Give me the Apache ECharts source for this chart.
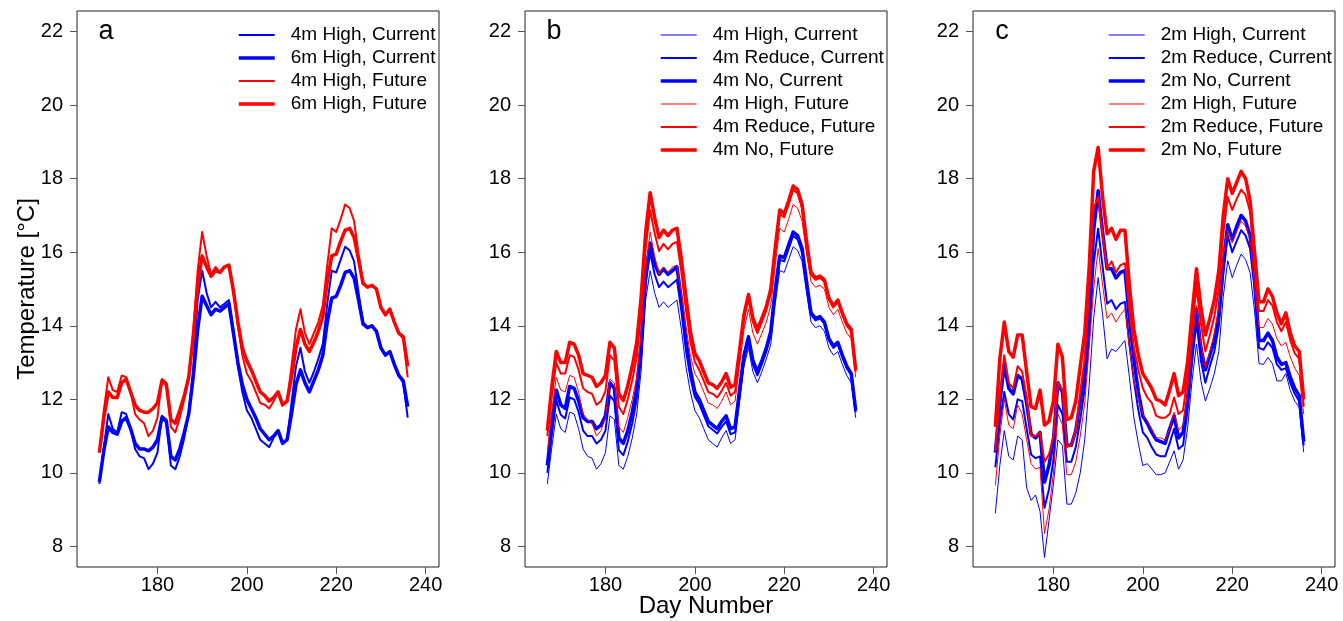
<!DOCTYPE html>
<html><head><meta charset="utf-8">
<script src="https://cdn.jsdelivr.net/npm/echarts@6.0.0/dist/echarts.min.js"></script>
<style>html,body{margin:0;padding:0;background:#fff}#c{width:1343px;height:621px}</style>
</head><body><div id="c"></div>
<script>
// ---------------- data ----------------
const DAYS = [167,168,169,170,171,172,173,174,175,176,177,178,179,180,181,182,183,184,185,186,
187,188,189,190,191,192,193,194,195,196,197,198,199,200,201,202,203,204,205,206,
207,208,209,210,211,212,213,214,215,216,217,218,219,220,221,222,223,224,225,226,
227,228,229,230,231,232,233,234,235,236];
const X_TICKS = [180,200,220,240];
const Y_TICKS = [8,10,12,14,16,18,20,22];

// panel a / b (4 m and 6 m depth)
const HIGH_4M_CURRENT = [9.7,10.7,11.6,11.2,11.1,11.65,11.6,11.2,10.65,10.45,
10.4,10.1,10.25,10.55,11.55,11.45,10.2,10.1,10.45,10.95,
11.6,12.8,14.7,15.5,14.9,14.5,14.65,14.5,14.6,14.7,
13.9,12.9,12.2,11.7,11.5,11.2,10.9,10.8,10.7,10.95,
11.15,10.8,10.9,11.9,12.9,13.4,12.75,12.45,12.75,13.1,
13.5,14.6,15.5,15.45,15.8,16.15,16.05,15.75,14.9,14.1,
13.95,14.0,13.85,13.4,13.2,13.3,12.95,12.65,12.45,11.5];
const HIGH_6M_CURRENT = [9.75,10.6,11.25,11.1,11.05,11.4,11.5,11.2,10.8,10.65,
10.65,10.6,10.7,10.9,11.5,11.4,10.45,10.35,10.65,11.1,
11.6,12.6,13.9,14.8,14.55,14.3,14.45,14.4,14.5,14.6,
13.8,13.0,12.4,12.0,11.75,11.5,11.2,11.05,10.9,11.0,
11.15,10.8,10.9,11.6,12.4,12.8,12.45,12.2,12.5,12.8,
13.2,14.1,14.75,14.8,15.1,15.45,15.5,15.3,14.7,14.05,
13.95,14.0,13.85,13.4,13.2,13.3,12.95,12.65,12.5,11.8];
const HIGH_4M_FUTURE = [10.55,11.7,12.6,12.25,12.2,12.65,12.6,12.2,11.6,11.45,
11.35,11.0,11.15,11.5,12.55,12.45,11.25,11.1,11.5,12.0,
12.6,13.8,15.5,16.55,15.9,15.4,15.6,15.45,15.6,15.65,
14.9,14.0,13.2,12.7,12.5,12.2,11.9,11.85,11.75,11.95,
12.2,11.85,11.95,12.9,13.9,14.45,13.8,13.5,13.8,14.1,
14.55,15.65,16.65,16.55,16.9,17.3,17.2,16.85,15.95,15.2,
15.05,15.1,15.0,14.5,14.3,14.45,14.1,13.8,13.65,12.6];
const HIGH_6M_FUTURE = [10.55,11.5,12.2,12.05,12.05,12.45,12.55,12.2,11.85,11.7,
11.65,11.65,11.75,11.9,12.5,12.4,11.45,11.35,11.7,12.1,
12.6,13.7,15.1,15.9,15.6,15.35,15.5,15.45,15.6,15.65,
14.95,14.1,13.4,13.05,12.8,12.5,12.2,12.1,11.95,12.05,
12.2,11.85,11.95,12.6,13.4,13.9,13.5,13.3,13.55,13.85,
14.25,15.2,15.9,15.95,16.3,16.6,16.65,16.4,15.8,15.15,
15.05,15.1,15.0,14.5,14.3,14.45,14.1,13.8,13.7,12.9];
const REDUCE_4M_CURRENT = [10.0,11.05,11.97,11.58,11.48,12.05,12.0,11.65,11.15,11.0,
11.0,10.8,10.9,11.15,12.1,11.95,10.62,10.48,10.85,11.35,
12.0,13.2,15.15,16.0,15.4,15.05,15.2,15.05,15.15,15.25,
14.4,13.35,12.6,12.07,11.87,11.57,11.27,11.17,11.07,11.25,
11.4,11.05,11.1,12.1,13.08,13.57,12.95,12.65,12.95,13.3,
13.75,14.9,15.8,15.75,16.1,16.45,16.35,16.0,15.12,14.3,
14.15,14.2,14.05,13.6,13.4,13.5,13.15,12.85,12.65,11.65];
const NO_4M_CURRENT = [10.2,11.3,12.25,11.85,11.75,12.35,12.3,11.95,11.5,11.4,
11.4,11.2,11.3,11.55,12.45,12.3,10.95,10.8,11.15,11.65,
12.3,13.5,15.4,16.25,15.7,15.4,15.55,15.4,15.5,15.6,
14.7,13.6,12.8,12.2,12.0,11.7,11.4,11.3,11.2,11.4,
11.55,11.2,11.25,12.25,13.2,13.7,13.05,12.75,13.05,13.4,
13.85,15.0,15.9,15.85,16.2,16.55,16.45,16.1,15.2,14.35,
14.2,14.25,14.1,13.65,13.45,13.55,13.2,12.9,12.7,11.7];
const REDUCE_4M_FUTURE = [11.0,12.12,13.0,12.7,12.7,13.2,13.15,12.8,12.3,12.2,
12.15,11.85,11.95,12.22,13.2,13.05,11.8,11.6,12.0,12.52,
13.15,14.38,16.1,17.15,16.52,16.03,16.23,16.08,16.23,16.28,
15.45,14.45,13.58,13.02,12.8,12.5,12.2,12.15,12.05,12.23,
12.45,12.1,12.2,13.18,14.2,14.75,14.1,13.8,14.1,14.42,
14.9,16.03,17.05,16.95,17.3,17.7,17.6,17.2,16.23,15.4,
15.25,15.3,15.2,14.7,14.5,14.65,14.3,14.0,13.85,12.75];
const NO_4M_FUTURE = [11.15,12.35,13.3,13.0,13.0,13.55,13.5,13.2,12.7,12.65,
12.6,12.35,12.45,12.65,13.55,13.4,12.15,11.97,12.37,12.9,
13.55,14.8,16.55,17.62,16.95,16.4,16.6,16.45,16.6,16.65,
15.8,14.8,13.85,13.25,13.05,12.75,12.45,12.4,12.3,12.47,
12.7,12.33,12.4,13.32,14.3,14.85,14.2,13.9,14.2,14.52,
15.0,16.13,17.15,17.05,17.4,17.8,17.7,17.3,16.3,15.45,
15.3,15.35,15.25,14.75,14.55,14.7,14.35,14.05,13.9,12.8];

// panel c (2 m depth)
const HIGH_2M_CURRENT = [8.9,10.2,11.15,10.45,10.35,11.0,10.9,9.6,9.25,9.4,
8.95,7.7,8.7,9.7,10.9,10.75,9.15,9.15,9.45,10.0,
10.9,12.4,14.2,15.31,14.3,13.1,13.37,13.3,13.45,13.6,
12.6,11.5,10.8,10.2,10.25,10.1,9.95,9.95,10.0,10.3,
10.6,10.1,10.35,11.2,12.5,13.5,12.5,11.95,12.3,12.7,
13.3,14.8,15.77,15.31,15.65,15.95,15.8,15.45,14.4,12.97,
12.95,13.14,12.97,12.5,12.5,12.7,12.24,11.95,11.78,10.56];
const REDUCE_2M_CURRENT = [10.15,11.35,12.2,11.6,11.45,12.0,11.95,11.2,10.5,10.4,
10.45,9.05,9.55,10.35,11.85,11.6,10.3,10.3,10.7,11.45,
12.3,13.7,15.7,16.64,15.6,14.6,14.7,14.45,14.6,14.65,
13.5,12.5,11.7,11.1,10.95,10.7,10.5,10.45,10.45,10.8,
11.2,10.65,10.75,11.7,13.0,14.1,13.05,12.45,12.9,13.3,
14.0,15.4,16.45,16.0,16.3,16.6,16.45,16.1,15.0,13.4,
13.35,13.55,13.4,12.95,12.8,12.85,12.45,12.15,11.95,10.75];
const NO_2M_CURRENT = [10.55,11.9,12.95,12.3,12.15,12.65,12.55,11.9,11.05,10.95,
11.1,9.75,10.2,10.9,12.45,12.2,10.75,10.75,11.15,11.95,
12.8,14.4,16.6,17.67,16.55,15.55,15.55,15.3,15.45,15.5,
14.2,13.1,12.2,11.55,11.35,11.1,10.9,10.85,10.8,11.2,
11.55,10.95,11.1,12.0,13.3,14.45,13.4,12.8,13.2,13.6,
14.3,15.7,16.75,16.35,16.7,17.0,16.85,16.45,15.3,13.6,
13.6,13.8,13.6,13.15,12.95,13.0,12.6,12.3,12.1,10.85];
const HIGH_2M_FUTURE = [9.66,11.0,12.0,11.3,11.2,11.85,11.6,10.9,10.25,10.1,
10.15,8.35,9.0,10.0,11.6,11.3,9.95,9.95,10.3,11.0,
11.9,13.4,15.0,16.1,15.1,14.2,14.35,14.1,14.3,14.45,
13.4,12.5,12.0,11.6,11.4,11.2,10.95,10.95,10.9,11.2,
11.65,11.15,11.3,12.2,13.5,14.55,13.5,12.85,13.3,13.8,
14.5,15.9,16.6,16.25,16.55,16.85,16.7,16.35,15.1,13.95,
13.95,14.2,14.05,13.65,13.45,13.55,13.15,12.85,12.65,11.6];
const REDUCE_2M_FUTURE = [10.6,12.1,13.2,12.45,12.3,12.9,12.75,12.05,11.0,11.0,
11.1,10.3,10.5,11.0,12.45,12.25,10.7,10.75,11.15,12.2,
13.1,14.9,17.2,17.5,16.45,15.55,15.75,15.45,15.65,15.7,
14.4,13.4,12.8,12.3,12.05,11.9,11.55,11.5,11.5,11.6,
12.05,11.6,11.7,12.6,13.9,15.05,14.05,13.3,13.75,14.25,
15.0,16.5,17.5,17.15,17.45,17.7,17.55,17.1,15.6,14.4,
14.4,14.7,14.55,14.1,13.85,14.1,13.6,13.25,13.1,11.8];
const NO_2M_FUTURE = [11.25,13.1,14.1,13.3,13.15,13.75,13.75,12.75,11.8,11.75,
12.25,11.3,11.4,11.95,13.5,13.15,11.45,11.5,11.95,12.9,
13.8,15.6,18.2,18.85,17.5,16.5,16.65,16.35,16.6,16.6,
15.1,13.9,13.2,12.7,12.5,12.3,12.0,11.95,11.85,12.25,
12.7,12.1,12.2,13.0,14.3,15.55,14.5,13.75,14.2,14.7,
15.5,17.0,18.0,17.6,17.9,18.2,18.0,17.4,16.0,14.65,
14.65,15.0,14.8,14.35,14.05,14.35,13.8,13.45,13.3,12.0];

// ---------------- styling / layout ----------------
const BLUE = '#0000ff', RED = '#ff0000';
const FONT = 'Liberation Sans, Arial, Helvetica, sans-serif';
const GRID_LEFT = [77, 525, 973];
const GRID_TOP = 11, GRID_W = 362, GRID_H = 556;
const LEGEND_LEFT = [237, 659, 1107];

const panels = [
  { letter: 'a', series: [
    ['4m High, Current', HIGH_4M_CURRENT, BLUE, 2],
    ['6m High, Current', HIGH_6M_CURRENT, BLUE, 3.5],
    ['4m High, Future', HIGH_4M_FUTURE, RED, 2],
    ['6m High, Future', HIGH_6M_FUTURE, RED, 3.5]
  ]},
  { letter: 'b', series: [
    ['4m High, Current', HIGH_4M_CURRENT, BLUE, 1],
    ['4m Reduce, Current', REDUCE_4M_CURRENT, BLUE, 2],
    ['4m No, Current', NO_4M_CURRENT, BLUE, 3.5],
    ['4m High, Future', HIGH_4M_FUTURE, RED, 1],
    ['4m Reduce, Future', REDUCE_4M_FUTURE, RED, 2],
    ['4m No, Future', NO_4M_FUTURE, RED, 3.5]
  ]},
  { letter: 'c', series: [
    ['2m High, Current', HIGH_2M_CURRENT, BLUE, 1],
    ['2m Reduce, Current', REDUCE_2M_CURRENT, BLUE, 2],
    ['2m No, Current', NO_2M_CURRENT, BLUE, 3.5],
    ['2m High, Future', HIGH_2M_FUTURE, RED, 1],
    ['2m Reduce, Future', REDUCE_2M_FUTURE, RED, 2],
    ['2m No, Future', NO_2M_FUTURE, RED, 3.5]
  ]}
];

const grid = [], xAxis = [], yAxis = [], series = [], legend = [], graphic = [];
panels.forEach((p, i) => {
  grid.push({ left: GRID_LEFT[i], top: GRID_TOP, width: GRID_W, height: GRID_H,
    show: true, borderColor: '#222', borderWidth: 1, backgroundColor: 'transparent' });
  xAxis.push({ type: 'value', gridIndex: i, min: 162, max: 243,
    axisLine: { show: false }, splitLine: { show: false },
    axisTick: { show: true, inside: false, length: 7, customValues: X_TICKS,
      lineStyle: { color: '#555', width: 1 } },
    axisLabel: { customValues: X_TICKS, margin: 8, color: '#000', fontSize: 20, fontFamily: FONT } });
  yAxis.push({ type: 'value', gridIndex: i, min: 7.44, max: 22.56,
    axisLine: { show: false }, splitLine: { show: false },
    axisTick: { show: true, inside: false, length: 7, customValues: Y_TICKS,
      lineStyle: { color: '#555', width: 1 } },
    axisLabel: { customValues: Y_TICKS, margin: 14, color: '#000', fontSize: 20, fontFamily: FONT } });
  const names = [];
  p.series.forEach(([name, vals, color, width]) => {
    series.push({ type: 'line', name, xAxisIndex: i, yAxisIndex: i,
      data: DAYS.map((d, k) => [d, vals[k]]),
      symbol: 'none', showSymbol: false, silent: true, animation: false,
      lineStyle: { color, width, join: 'round' }, itemStyle: { color } });
    names.push({ name, lineStyle: { width, color }, itemStyle: { opacity: 0, color: 'rgba(0,0,0,0)', borderWidth: 0 } });
  });
  legend.push({ orient: 'vertical', left: LEGEND_LEFT[i], top: 25.5, padding: 0,
    itemWidth: 36, itemHeight: 14, itemGap: 4, selectedMode: false,
    textStyle: { fontSize: 19, fontFamily: FONT, color: '#000', lineHeight: 19, padding: [0, 0, 0, 11] },
    data: names });
  graphic.push({ type: 'text', x: GRID_LEFT[i] + 29, y: 32,
    style: { text: p.letter, font: '27px ' + FONT, fill: '#000', align: 'center', verticalAlign: 'middle' } });
});
graphic.push({ type: 'text', x: 27, y: 289, rotation: Math.PI / 2,
  style: { text: 'Temperature [\u00B0C]', font: '24px ' + FONT, fill: '#000', align: 'center', verticalAlign: 'middle' } });
graphic.push({ type: 'text', x: 706, y: 606,
  style: { text: 'Day Number', font: '24px ' + FONT, fill: '#000', align: 'center', verticalAlign: 'middle' } });

const chart = echarts.init(document.getElementById('c'), null, { renderer: 'canvas' });
chart.setOption({ animation: false, backgroundColor: '#fff', grid, xAxis, yAxis, series, legend, graphic });
</script></body></html>
